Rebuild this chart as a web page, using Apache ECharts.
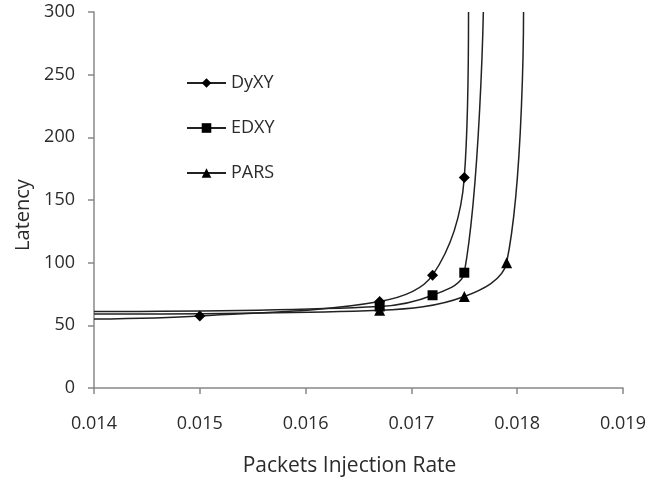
<!DOCTYPE html>
<html><head><meta charset="utf-8">
<script src="https://cdn.jsdelivr.net/npm/echarts@6/dist/echarts.min.js"></script>
<style>html,body{margin:0;padding:0;background:#fff}#c{width:665px;height:486px}</style>
</head><body><div id="c"></div>
<script>
var xTicks = [0.014, 0.015, 0.016, 0.017, 0.018, 0.019];
var yTicks = [0, 50, 100, 150, 200, 250, 300];
var seriesNames = ['DyXY', 'EDXY', 'PARS'];
var seriesSymbols = ['diamond', 'rect', 'triangle'];
var dyxyX = [0.014, 0.015, 0.0167, 0.0172, 0.0175, 0.01754];
var dyxyY = [55, 57.5, 69, 90, 168, 300];
var dyxyMark = [false, true, true, true, true, false];
var edxyX = [0.014, 0.0167, 0.0172, 0.0175, 0.01768];
var edxyY = [61, 65, 74, 92, 300];
var edxyMark = [false, true, true, true, false];
var parsX = [0.014, 0.0167, 0.0175, 0.0179, 0.01806];
var parsY = [59, 62, 73, 100, 300];
var parsMark = [false, true, true, true, false];

function build(xs, ys, marks) {
  return xs.map(function (x, i) {
    var d = { value: [x, ys[i]] };
    if (!marks[i]) d.symbol = 'none';
    return d;
  });
}
var allData = [build(dyxyX, dyxyY, dyxyMark), build(edxyX, edxyY, edxyMark), build(parsX, parsY, parsMark)];
var sizes = [11, 10, 11];
var font = 'Open Sans';
var txt = '#2b2b2b';
var chart = echarts.init(document.getElementById('c'));
chart.setOption({
  animation: false,
  textStyle: { fontFamily: font },
  grid: { left: 94, right: 42, top: 12, bottom: 98, containLabel: false },
  legend: {
    orient: 'vertical', left: 181, top: 69, itemGap: 27,
    itemWidth: 39, itemHeight: 12,
    textStyle: { fontSize: 18, color: txt, fontFamily: font },
    data: seriesNames
  },
  xAxis: {
    type: 'value', min: 0.014, max: 0.019, interval: 0.001,
    name: 'Packets Injection Rate', nameLocation: 'middle', nameGap: 68,
    nameTextStyle: { fontSize: 21, color: txt, padding: [0, 18, 0, 0] },
    axisLine: { lineStyle: { color: '#888', width: 1.5 } },
    axisTick: { show: true, length: 6, lineStyle: { color: '#888', width: 1.5 } },
    axisLabel: { fontSize: 18, color: txt, margin: 27, formatter: function (v) { return v.toFixed(3); } },
    splitLine: { show: false }
  },
  yAxis: {
    type: 'value', min: 0, max: 300, interval: 50,
    name: 'Latency', nameLocation: 'middle', nameGap: 60, nameRotate: 90,
    nameTextStyle: { fontSize: 20, color: txt, padding: [0, 30, 0, 0] },
    axisLine: { show: true, lineStyle: { color: '#888', width: 1.5 } },
    axisTick: { show: true, length: 6, lineStyle: { color: '#888', width: 1.5 } },
    axisLabel: { fontSize: 18, color: txt, margin: 19 },
    splitLine: { show: false }
  },
  series: seriesNames.map(function (n, i) {
    return {
      name: n, type: 'line', data: allData[i], smooth: 0.35, clip: true,
      symbol: seriesSymbols[i], symbolSize: sizes[i],
      lineStyle: { color: '#222', width: 1.5 },
      itemStyle: { color: '#000' }
    };
  })
});
</script></body></html>
